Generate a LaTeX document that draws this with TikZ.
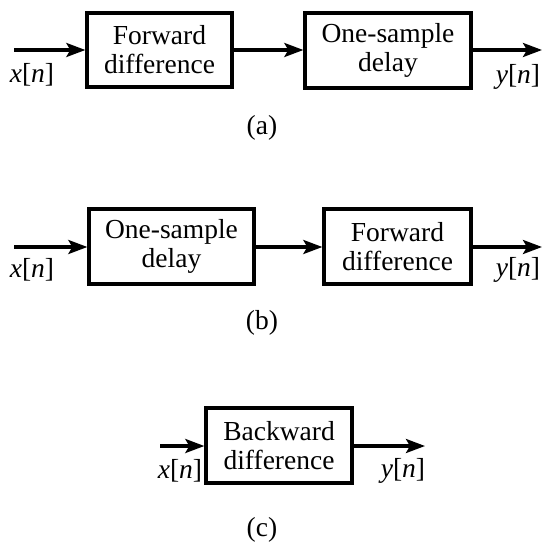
\documentclass[tikz,border=0pt]{standalone}
\usepackage{fontspec}
\setmainfont{Liberation Serif}
\usetikzlibrary{arrows.meta}
\begin{document}
\begin{tikzpicture}[x=1pt,y=-1pt,
  blk/.style={draw,line width=3.3pt,inner sep=0pt,align=center,
    font=\fontsize{27.5}{29}\selectfont},
  lbl/.style={font=\fontsize{27.5}{29}\selectfont,inner sep=0pt},
  sig/.style={line width=3.3pt,-{Stealth[length=19pt,width=14pt,inset=4pt]}}]
\useasboundingbox (0,0) rectangle (544,545);
% (a)
\node[blk,minimum width=145pt,minimum height=74pt] (a1) at (159.5,50) {Forward\\difference};
\node[blk,minimum width=166pt,minimum height=75pt] (a2) at (388,50.5) {One-sample\\delay};
\coordinate (ain) at (14,50);
\coordinate (aout) at (542,50);
\draw[sig] (ain) -- (a1.west);
\draw[sig] (a1.east) -- (a2.west |- a1.east);
\draw[sig] (a2.east |- aout) -- (aout);
\node[lbl] (ax) at (32,75) {\itshape x\upshape[\itshape n\upshape]};
\node[lbl] (ay) at (518,77) {\itshape y\upshape[\itshape n\upshape]};
\node[lbl] (acap) at (262,128) {(a)};
% (b)
\node[blk,minimum width=165pt,minimum height=75pt] (b1) at (171.5,246.5) {One-sample\\delay};
\node[blk,minimum width=147pt,minimum height=75pt] (b2) at (397.5,246.5) {Forward\\difference};
\coordinate (bin) at (14,247);
\coordinate (bout) at (542,247);
\draw[sig] (bin) -- (b1.west |- bin);
\draw[sig] (b1.east |- bin) -- (b2.west |- bin);
\draw[sig] (b2.east |- bout) -- (bout);
\node[lbl] (bx) at (32,270) {\itshape x\upshape[\itshape n\upshape]};
\node[lbl] (by) at (518,270) {\itshape y\upshape[\itshape n\upshape]};
\node[lbl] (bcap) at (262,323) {(b)};
% (c)
\node[blk,minimum width=146pt,minimum height=75pt] (c1) at (279,445.5) {Backward\\difference};
\coordinate (cin) at (160,446);
\coordinate (cout) at (425,446);
\draw[sig] (cin) -- (c1.west |- cin);
\draw[sig] (c1.east |- cout) -- (cout);
\node[lbl] (cx) at (180,471) {\itshape x\upshape[\itshape n\upshape]};
\node[lbl] (cy) at (403,471) {\itshape y\upshape[\itshape n\upshape]};
\node[lbl] (ccap) at (262,530) {(c)};
\end{tikzpicture}
\end{document}
